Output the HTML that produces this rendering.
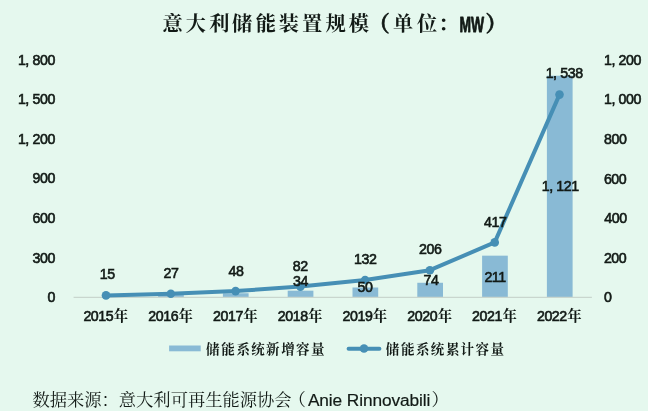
<!DOCTYPE html>
<html lang="zh-CN"><head><meta charset="utf-8"><title>意大利储能装置规模</title>
<style>
html,body{margin:0;padding:0;background:#fff;}
body{width:650px;height:414px;overflow:hidden;position:relative;}
svg{position:absolute;left:0;top:0;display:block;}
text{fill:#121a16;}
.num{font-family:"Liberation Sans","DejaVu Sans",sans-serif;font-size:14.2px;letter-spacing:-0.4px;stroke:#121a16;stroke-width:0.6px;}
.kai{font-family:"Liberation Serif","Noto Serif CJK SC",serif;font-weight:700;letter-spacing:0;stroke:none;}
.par{stroke:#121a16;stroke-width:0.7px;}
.song{font-family:"Liberation Sans","Noto Serif CJK SC",serif;font-weight:400;}
</style></head><body>
<svg width="650" height="414" viewBox="0 0 650 414">
<rect x="0" y="0" width="650" height="414" fill="#ffffff"/>
<rect x="0" y="0" width="648" height="411" fill="#e5f8ee"/>
<text class="kai" font-size="20.2" y="31.0" x="162.40 185.65 209.20 232.10 255.70 278.85 302.05 325.45 348.70">意大利储能装置规模</text>
<text class="kai par" font-size="21.5" y="31.2" x="368.21">（</text>
<text class="kai" font-size="20.2" y="31.0" x="392.90 417.00 438.25">单位：</text>
<text transform="translate(459.5 31.7) scale(0.63 1)" font-family="&quot;Liberation Sans&quot;,sans-serif" font-weight="700" font-size="22" stroke="#121a16" stroke-width="0.9" stroke-linejoin="round">MW</text>
<text class="kai par" font-size="21.5" y="31.2" x="485.38">）</text>
<rect x="158.1" y="295.03" width="25.7" height="2.37" fill="#89bad5"/>
<rect x="222.9" y="293.25" width="25.7" height="4.15" fill="#89bad5"/>
<rect x="287.7" y="290.68" width="25.7" height="6.72" fill="#89bad5"/>
<rect x="352.5" y="287.51" width="25.7" height="9.89" fill="#89bad5"/>
<rect x="417.3" y="282.77" width="25.7" height="14.63" fill="#89bad5"/>
<rect x="482.1" y="255.67" width="25.7" height="41.73" fill="#89bad5"/>
<rect x="546.9" y="75.72" width="25.7" height="221.68" fill="#89bad5"/>
<line x1="73.6" y1="297.4" x2="591.9" y2="297.4" stroke="#c9d6ce" stroke-width="1.3"/>
<polyline points="106.0,295.4 170.8,293.8 235.6,291.1 300.4,286.6 365.1,280.0 429.9,270.2 494.7,242.4 559.5,94.6" fill="none" stroke="#468fb5" stroke-width="4" stroke-linejoin="round" stroke-linecap="round"/>
<circle cx="106.0" cy="295.4" r="4.3" fill="#468fb5"/>
<circle cx="170.8" cy="293.8" r="4.3" fill="#468fb5"/>
<circle cx="235.6" cy="291.1" r="4.3" fill="#468fb5"/>
<circle cx="300.4" cy="286.6" r="4.3" fill="#468fb5"/>
<circle cx="365.1" cy="280.0" r="4.3" fill="#468fb5"/>
<circle cx="429.9" cy="270.2" r="4.3" fill="#468fb5"/>
<circle cx="494.7" cy="242.4" r="4.3" fill="#468fb5"/>
<circle cx="559.5" cy="94.6" r="4.3" fill="#468fb5"/>
<text class="num" x="17.88" y="64.80">1,<tspan dx="3.5">800</tspan></text>
<text class="num" x="17.88" y="104.35">1,<tspan dx="3.5">500</tspan></text>
<text class="num" x="17.88" y="143.90">1,<tspan dx="3.5">200</tspan></text>
<text class="num" x="32.43" y="183.45">900</text>
<text class="num" x="32.43" y="223.00">600</text>
<text class="num" x="32.43" y="262.55">300</text>
<text class="num" x="47.42" y="302.10">0</text>
<text class="num" x="604.03" y="64.90">1,<tspan dx="3.5">200</tspan></text>
<text class="num" x="604.03" y="104.45">1,<tspan dx="3.5">000</tspan></text>
<text class="num" x="603.96" y="144.00">800</text>
<text class="num" x="603.89" y="183.55">600</text>
<text class="num" x="604.32" y="223.10">400</text>
<text class="num" x="603.89" y="262.65">200</text>
<text class="num" x="604.03" y="302.20">0</text>
<text class="num" x="83.38" y="321.00">2015</text>
<text class="kai" font-size="14.4" x="113.69" y="321.3">年</text>
<text class="num" x="148.17" y="321.00">2016</text>
<text class="kai" font-size="14.4" x="178.48" y="321.3">年</text>
<text class="num" x="212.96" y="321.00">2017</text>
<text class="kai" font-size="14.4" x="243.27" y="321.3">年</text>
<text class="num" x="277.75" y="321.00">2018</text>
<text class="kai" font-size="14.4" x="308.06" y="321.3">年</text>
<text class="num" x="342.53" y="321.00">2019</text>
<text class="kai" font-size="14.4" x="372.84" y="321.3">年</text>
<text class="num" x="407.32" y="321.00">2020</text>
<text class="kai" font-size="14.4" x="437.63" y="321.3">年</text>
<text class="num" x="472.11" y="321.00">2021</text>
<text class="kai" font-size="14.4" x="502.42" y="321.3">年</text>
<text class="num" x="536.90" y="321.00">2022</text>
<text class="kai" font-size="14.4" x="567.21" y="321.3">年</text>
<text class="num" x="99.73" y="279.40">15</text>
<text class="num" x="163.59" y="277.70">27</text>
<text class="num" x="228.52" y="275.70">48</text>
<text class="num" x="292.86" y="270.80">82</text>
<text class="num" x="354.04" y="264.10">132</text>
<text class="num" x="419.09" y="254.20">206</text>
<text class="num" x="484.02" y="226.60">417</text>
<text class="num" x="545.63" y="78.40">1,<tspan dx="3.5">538</tspan></text>
<text class="num" x="292.93" y="285.90">34</text>
<text class="num" x="357.43" y="292.20">50</text>
<text class="num" x="423.59" y="285.30">74</text>
<text class="num" x="484.39" y="282.00">211</text>
<text class="num" x="541.73" y="191.30">1,<tspan dx="3.5">121</tspan></text>
<rect x="169.1" y="345.5" width="31.6" height="5.8" fill="#89bad5"/>
<text class="kai" font-size="13.5" y="353.6" x="206.12 221.29 236.49 251.13 266.06 281.27 296.04 311.01">储能系统新增容量</text>
<line x1="348.6" y1="348.8" x2="379.4" y2="348.8" stroke="#468fb5" stroke-width="4" stroke-linecap="round"/>
<circle cx="364" cy="348.5" r="4.3" fill="#468fb5"/>
<text class="kai" font-size="13.5" y="353.6" x="385.72 400.88 416.07 430.70 446.03 460.55 475.58 490.54">储能系统累计容量</text>
<text class="song" x="32.4" y="406.2" font-size="17.3">数据来源：意大利可再生能源协会</text>
<text class="song" x="288.4" y="406.2" font-size="17.3">（</text>
<text class="song" x="307.9" y="406.2" font-size="17.3" letter-spacing="-0.1" stroke="#121a16" stroke-width="0.2">Anie Rinnovabili</text>
<text class="song" x="431.5" y="406.2" font-size="17.3">）</text>
</svg>
</body></html>
